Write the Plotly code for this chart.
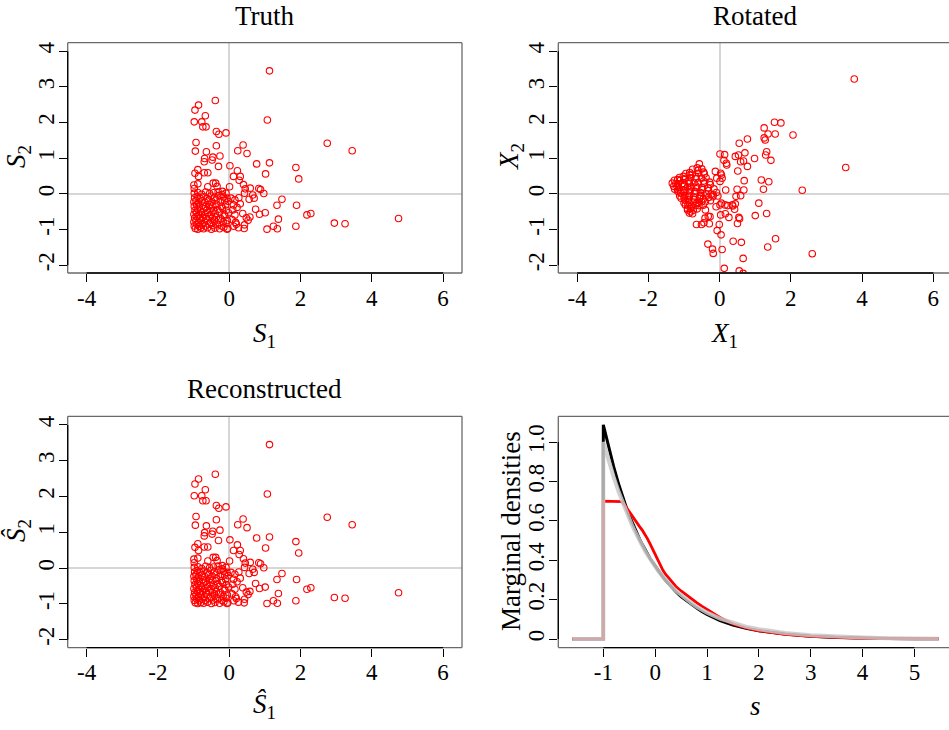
import plotly.graph_objects as go

# ---------------- data ----------------
# Truth sources (S1, S2): outlying points and the dense core near (-1,-1)..(0,0)
truth_outer = [
    (1.13, 3.45), (-0.39, 2.62), (-0.86, 2.49), (-0.96, 2.35), (-0.67, 2.19), (-0.98, 2.02),
    (-0.77, 2.02), (-0.74, 1.88), (-0.65, 1.88), (1.07, 2.07), (-0.36, 1.75), (-0.29, 1.67),
    (-0.09, 1.71), (2.75, 1.42), (3.45, 1.21), (-0.93, 1.44), (-0.95, 1.20), (-0.36, 1.35),
    (-0.64, 1.18), (0.39, 1.37), (0.24, 1.21), (0.50, 1.13), (-0.69, 0.99), (-0.46, 1.03),
    (-0.26, 1.06), (-0.48, 0.95), (-0.70, 0.90), (-0.30, 0.77), (0.02, 0.79), (0.77, 0.84),
    (1.13, 0.87), (1.87, 0.74), (1.95, 0.42), (-0.88, 0.68), (-0.96, 0.58), (-0.86, 0.49),
    (-0.70, 0.59), (-0.60, 0.59), (0.23, 0.65), (1.02, 0.56), (0.12, 0.49), (0.31, 0.49),
    (0.28, 0.38), (0.40, 0.26), (0.45, 0.14), (0.59, 0.16), (0.83, 0.15), (0.88, 0.12),
    (0.97, 0.01), (0.66, -0.03), (0.70, -0.12), (0.56, -0.15), (0.43, 0.02), (0.01, 0.20),
    (-0.19, 0.07), (-0.34, 0.21), (-0.45, 0.30), (-0.38, 0.30), (-0.60, 0.20), (-0.88, 0.28),
    (-0.99, 0.25), (-0.98, 0.15), (1.48, -0.15), (1.34, -0.32), (1.89, -0.32), (0.74, -0.43),
    (0.85, -0.57), (1.01, -0.53), (2.18, -0.59), (2.29, -0.55), (1.38, -0.71), (0.58, -0.65),
    (0.53, -0.74), (0.43, -0.87), (0.42, -0.97), (0.20, -0.85), (0.13, -0.91), (-0.06, -0.99),
    (1.06, -0.99), (1.24, -0.91), (1.35, -0.98), (1.87, -0.91), (2.95, -0.82), (3.25, -0.84),
    (4.75, -0.69), (0.16, -0.59), (0.27, -0.11), (0.31, -0.28), (0.38, -0.55), (0.48, -0.67),
    (0.12, -0.31), (0.16, -0.17), (0.10, -0.45), (0.22, -0.38), (0.08, -0.72), (0.05, -0.12),
    (0.18, -0.80), (0.26, -0.95),
]
truth_core = [
    (-0.95, -0.97), (-0.88, -0.99), (-0.80, -0.96), (-0.72, -0.98), (-0.61, -0.95), (-0.50, -0.99),
    (-0.40, -0.96), (-0.27, -0.98), (-0.15, -0.94), (-0.04, -0.97),
    (-0.98, -0.90), (-0.91, -0.86), (-0.84, -0.91), (-0.76, -0.87), (-0.67, -0.90), (-0.56, -0.85),
    (-0.45, -0.89), (-0.33, -0.86), (-0.21, -0.90), (-0.09, -0.84),
    (-0.99, -0.79), (-0.93, -0.76), (-0.86, -0.81), (-0.79, -0.75), (-0.70, -0.79), (-0.62, -0.74),
    (-0.52, -0.80), (-0.41, -0.77), (-0.30, -0.73), (-0.17, -0.79), (-0.05, -0.75),
    (-0.97, -0.68), (-0.90, -0.65), (-0.83, -0.70), (-0.74, -0.66), (-0.65, -0.69), (-0.57, -0.63),
    (-0.47, -0.68), (-0.36, -0.65), (-0.24, -0.69), (-0.12, -0.62),
    (-0.99, -0.57), (-0.92, -0.54), (-0.85, -0.59), (-0.78, -0.53), (-0.69, -0.57), (-0.60, -0.52),
    (-0.50, -0.58), (-0.39, -0.55), (-0.28, -0.51), (-0.14, -0.57), (-0.02, -0.53),
    (-0.96, -0.46), (-0.89, -0.43), (-0.81, -0.48), (-0.72, -0.42), (-0.63, -0.46), (-0.53, -0.41),
    (-0.43, -0.47), (-0.32, -0.44), (-0.19, -0.40), (-0.08, -0.46),
    (-0.98, -0.35), (-0.91, -0.31), (-0.84, -0.37), (-0.75, -0.32), (-0.66, -0.36), (-0.55, -0.30),
    (-0.46, -0.34), (-0.35, -0.29), (-0.22, -0.35), (-0.10, -0.31),
    (-0.99, -0.23), (-0.93, -0.19), (-0.86, -0.25), (-0.77, -0.20), (-0.68, -0.24), (-0.58, -0.18),
    (-0.48, -0.22), (-0.37, -0.17), (-0.25, -0.23), (-0.13, -0.19), (-0.03, -0.21),
    (-0.97, -0.11), (-0.90, -0.07), (-0.82, -0.12), (-0.71, -0.08), (-0.61, -0.13), (-0.51, -0.06),
    (-0.41, -0.10), (-0.29, -0.05), (-0.16, -0.09), (-0.06, -0.12),
    (-0.98, 0.02), (-0.88, 0.04), (-0.77, -0.01), (-0.66, 0.05), (-0.55, 0.01), (-0.44, 0.03),
    (-0.31, 0.06), (-0.20, -0.02), (-0.09, 0.02),
]

# Rotated (mixed) data (X1, X2)
rot_outer = [
    (3.78, 3.22), (3.54, 0.74), (2.32, 0.10), (2.60, -1.68), (1.54, 2.01), (1.72, 1.99),
    (1.25, 1.85), (2.06, 1.65), (1.56, 1.68), (1.36, 1.68), (1.25, 1.57), (1.28, 1.51),
    (0.78, 1.54), (0.55, 1.42), (0.71, 1.15), (1.32, 1.18), (1.29, 1.09), (1.44, 0.94),
    (0.98, 0.99), (0.44, 1.05), (0.53, 1.09), (0.01, 1.12), (0.14, 1.10), (0.12, 0.94),
    (0.20, 0.81), (0.59, 0.90), (0.67, 0.92), (0.78, 0.77), (0.51, 0.64), (0.69, 0.37),
    (1.17, 0.39), (1.38, 0.34), (1.23, 0.13), (0.68, 0.11), (0.49, 0.13), (0.17, 0.11),
    (0.59, -0.05), (0.46, -0.07), (1.10, -0.26), (0.44, -0.28), (0.23, -0.33), (0.37, -0.34),
    (0.01, -0.31), (0.42, -0.43), (0.03, -0.59), (0.16, -0.56), (0.26, -0.66), (0.54, -0.66),
    (0.56, -0.70), (1.00, -0.61), (1.32, -0.55), (0.50, -0.83), (-0.01, -0.86), (-0.07, -1.03),
    (0.04, -1.15), (0.38, -1.33), (0.61, -1.36), (1.57, -1.26), (1.35, -1.49), (-0.33, -1.41),
    (-0.20, -1.55), (-0.18, -1.67), (0.07, -1.56), (0.66, -1.81), (0.13, -2.09), (0.55, -2.16),
    (0.66, -2.23),
    (-0.90, -0.45), (-0.85, -0.54), (-0.76, -0.56), (-0.65, -0.86), (-0.51, -0.86), (-0.44, -0.81),
    (-0.29, -0.84), (-0.27, -0.64), (-0.40, -0.45), (-0.10, -0.36), (-0.60, -0.24), (-0.55, -0.07),
    (-0.18, -0.03), (0.15, -0.31), (-0.32, -0.63), (-0.41, -0.68), (0.05, -0.26), (0.36, -0.31),
    (0.05, 0.53), (0.07, 0.44), (0.01, 0.35), (-0.12, 0.63), (-0.08, 0.44), (0.03, 0.58),
    (0.19, 0.86),
]
rot_core = [
    (-1.33, 0.30), (-1.27, 0.38), (-1.18, 0.40), (-1.13, 0.46), (-1.02, 0.49), (-0.95, 0.57),
    (-0.84, 0.60), (-0.76, 0.69), (-0.63, 0.73), (-0.57, 0.84),
    (-1.29, 0.21), (-1.23, 0.29), (-1.17, 0.28), (-1.12, 0.37), (-1.01, 0.41), (-0.96, 0.43),
    (-0.83, 0.53), (-0.77, 0.55), (-0.61, 0.66), (-0.50, 0.70),
    (-1.26, 0.13), (-1.20, 0.21), (-1.15, 0.17), (-1.05, 0.29), (-0.99, 0.27), (-0.87, 0.36),
    (-0.81, 0.45), (-0.67, 0.48), (-0.59, 0.58), (-0.45, 0.61),
    (-1.18, 0.07), (-1.16, 0.11), (-1.06, 0.10), (-1.02, 0.20), (-0.90, 0.19), (-0.85, 0.30),
    (-0.72, 0.31), (-0.66, 0.43), (-0.51, 0.44), (-0.43, 0.56),
    (-1.12, -0.06), (-1.09, 0.02), (-1.00, 0.04), (-0.97, 0.09), (-0.85, 0.11), (-0.79, 0.19),
    (-0.66, 0.22), (-0.60, 0.31), (-0.45, 0.36), (-0.38, 0.45),
    (-1.08, -0.12), (-1.00, -0.11), (-0.98, -0.05), (-0.87, -0.04), (-0.83, 0.06), (-0.70, 0.07),
    (-0.64, 0.17), (-0.50, 0.18), (-0.43, 0.30), (-0.28, 0.33),
    (-1.00, -0.25), (-0.97, -0.18), (-0.88, -0.17), (-0.85, -0.09), (-0.73, -0.08), (-0.68, 0.01),
    (-0.54, 0.04), (-0.48, 0.12), (-0.33, 0.17), (-0.26, 0.26),
    (-0.96, -0.31), (-0.89, -0.31), (-0.86, -0.24), (-0.74, -0.23), (-0.71, -0.15), (-0.57, -0.12),
    (-0.52, -0.04), (-0.38, 0.00), (-0.31, 0.09), (-0.16, 0.14),
    (-0.90, -0.41), (-0.82, -0.41), (-0.79, -0.35), (-0.68, -0.33), (-0.64, -0.26), (-0.51, -0.22),
    (-0.46, -0.14), (-0.31, -0.10), (-0.24, -0.01), (-0.09, 0.04),
    (-0.81, -0.50), (-0.74, -0.46), (-0.63, -0.42), (-0.58, -0.33), (-0.46, -0.32), (-0.40, -0.22),
    (-0.26, -0.19), (-0.19, -0.08), (-0.05, -0.06),
]

# Reconstructed sources are (visually) identical to the truth
recon_outer = truth_outer
recon_core = truth_core

# Marginal densities (true = black, estimate = red, others = gray)
dens_s = [-1.6, -1.0, -1.0, -0.9, -0.8, -0.7, -0.65, -0.6, -0.55, -0.5, -0.45, -0.4, -0.35, -0.3,
          -0.25, -0.2, -0.15, -0.1, -0.05, 0.0, 0.05, 0.1, 0.15, 0.2, 0.3, 0.4, 0.5, 0.6, 0.7, 0.8,
          0.9, 1.0, 1.25, 1.5, 1.75, 2.0, 2.5, 3.0, 3.5, 4.0, 4.5, 5.0, 5.47]
dens_black = [0, 0, 1.088, 0.975, 0.875, 0.783, 0.74, 0.70, 0.663, 0.628, 0.596, 0.565, 0.536,
              0.507, 0.481, 0.456, 0.433, 0.41, 0.39, 0.37, 0.351, 0.333, 0.315, 0.298, 0.268,
              0.24, 0.215, 0.195, 0.175, 0.157, 0.14, 0.125, 0.094, 0.071, 0.054, 0.042, 0.025,
              0.014, 0.008, 0.0045, 0.0025, 0.0015, 0.001]
dens_gray = [0, 0, 1.0, 0.905, 0.822, 0.745, 0.71, 0.675, 0.642, 0.61, 0.58, 0.552, 0.524, 0.498,
             0.473, 0.45, 0.428, 0.406, 0.386, 0.367, 0.349, 0.332, 0.315, 0.30, 0.271, 0.245,
             0.222, 0.201, 0.182, 0.164, 0.148, 0.134, 0.104, 0.081, 0.063, 0.050, 0.031, 0.019,
             0.012, 0.0075, 0.0045, 0.003, 0.002]
dens_red = [0, 0, 0.70, 0.70, 0.70, 0.70, 0.698, 0.685, 0.665, 0.645, 0.626, 0.607, 0.589, 0.571,
            0.553, 0.533, 0.51, 0.484, 0.456, 0.427, 0.398, 0.372, 0.349, 0.329, 0.295, 0.267,
            0.244, 0.223, 0.203, 0.185, 0.167, 0.15, 0.11, 0.076, 0.056, 0.042, 0.024, 0.013,
            0.007, 0.004, 0.002, 0.001, 0.0005]

# ---------------- figure ----------------
W, H = 949, 730
FONT = "Liberation Serif, Times New Roman, serif"
TICK_SIZE = 23
TITLE_SIZE = 27


def px_x(p):
    return p / W


def px_y(p):
    return 1 - p / H


fig = go.Figure()


def add_scatter(pts_list, xa, ya):
    xs = [p[0] for pts in pts_list for p in pts]
    ys = [p[1] for pts in pts_list for p in pts]
    fig.add_trace(go.Scatter(
        x=xs, y=ys, mode="markers", xaxis=xa, yaxis=ya, showlegend=False,
        marker=dict(symbol="circle-open", size=6.5, color="#ff0000", line=dict(width=1.1, color="#ff0000")),
        hoverinfo="skip"))


add_scatter([truth_core, truth_outer], "x", "y")
add_scatter([rot_core, rot_outer], "x2", "y2")
add_scatter([recon_core, recon_outer], "x3", "y3")

fig.add_trace(go.Scatter(x=dens_s, y=dens_black, mode="lines", xaxis="x4", yaxis="y4",
                         line=dict(color="black", width=3), showlegend=False, hoverinfo="skip"))
fig.add_trace(go.Scatter(x=dens_s, y=dens_red, mode="lines", xaxis="x4", yaxis="y4",
                         line=dict(color="#ff0000", width=2.8), showlegend=False, hoverinfo="skip"))
fig.add_trace(go.Scatter(x=dens_s, y=dens_gray, mode="lines", xaxis="x4", yaxis="y4",
                         line=dict(color="rgba(200,200,200,0.85)", width=4), showlegend=False,
                         hoverinfo="skip"))

tickfont = dict(family=FONT, size=TICK_SIZE, color="black")

common_x = dict(ticks="outside", ticklen=8, tickwidth=1.2, tickcolor="black", showgrid=False,
                showline=False, tickfont=tickfont, fixedrange=True, ticklabelstandoff=-4)
common_y = dict(ticks="outside", ticklen=8, tickwidth=1.2, tickcolor="black", showgrid=False,
                showline=False, tickfont=tickfont, tickangle=-90, fixedrange=True,
                ticklabelstandoff=-4)

sc_xt = [-4, -2, 0, 2, 4, 6]
sc_xl = ["-4", "-2", "0", "2", "4", "6"]
sc_yt = [-2, -1, 0, 1, 2, 3, 4]
sc_yl = ["-2", "-1", "0", "1", "2", "3", "4"]
zl = dict(zeroline=True, zerolinecolor="#d6d6d6", zerolinewidth=1.6)

left_dom = [px_x(67.7), px_x(462)]
right_dom = [px_x(558.3), 1.0]
top_dom = [px_y(273), px_y(42.7)]
bot_dom = [px_y(647.6), px_y(416.3)]

fig.update_layout(
    width=W, height=H, autosize=False,
    margin=dict(l=0, r=0, t=0, b=0),
    paper_bgcolor="white", plot_bgcolor="white",
    xaxis=dict(domain=left_dom, range=[-4.53, 6.53], tickvals=sc_xt, ticktext=sc_xl, anchor="y", **zl, **common_x),
    yaxis=dict(domain=top_dom, range=[-2.22, 4.24], tickvals=sc_yt, ticktext=sc_yl, anchor="x", **zl, **common_y),
    xaxis2=dict(domain=right_dom, range=[-4.53, 6.44], tickvals=sc_xt, ticktext=sc_xl, anchor="y2", **zl, **common_x),
    yaxis2=dict(domain=top_dom, range=[-2.22, 4.24], tickvals=sc_yt, ticktext=sc_yl, anchor="x2", **zl, **common_y),
    xaxis3=dict(domain=left_dom, range=[-4.53, 6.53], tickvals=sc_xt, ticktext=sc_xl, anchor="y3", **zl, **common_x),
    yaxis3=dict(domain=bot_dom, range=[-2.22, 4.24], tickvals=sc_yt, ticktext=sc_yl, anchor="x3", **zl, **common_y),
    xaxis4=dict(domain=right_dom, range=[-1.868, 5.667], tickvals=[-1, 0, 1, 2, 3, 4, 5],
                ticktext=["-1", "0", "1", "2", "3", "4", "5"], anchor="y4", zeroline=False, **common_x),
    yaxis4=dict(domain=bot_dom, range=[-0.0435, 1.131], tickvals=[0, 0.2, 0.4, 0.6, 0.8, 1.0],
                ticktext=["0", "0.2", "0.4", "0.6", "0.8", "1.0"], anchor="x4", zeroline=False, **common_y),
)

# Box (gray) and axis lines (black) in R style
shapes = []
BOX = dict(color="#6a6a6a", width=1.3)
AX = dict(color="black", width=1.3)


def box(xa, ya, right=True):
    xd, yd = f"{xa} domain", f"{ya} domain"
    shapes.append(dict(type="line", xref=xd, yref=yd, x0=0, x1=1, y0=1, y1=1, line=BOX))
    shapes.append(dict(type="line", xref=xd, yref=yd, x0=0, x1=1, y0=0, y1=0, line=BOX))
    shapes.append(dict(type="line", xref=xd, yref=yd, x0=0, x1=0, y0=0, y1=1, line=BOX))
    if right:
        shapes.append(dict(type="line", xref=xd, yref=yd, x0=1, x1=1, y0=0, y1=1, line=BOX))


def axis_lines(xa, ya, xlo, xhi, ylo, yhi):
    shapes.append(dict(type="line", xref=xa, yref=f"{ya} domain", x0=xlo, x1=xhi, y0=0, y1=0, line=AX))
    shapes.append(dict(type="line", xref=f"{xa} domain", yref=ya, x0=0, x1=0, y0=ylo, y1=yhi, line=AX))


box("x", "y")
axis_lines("x", "y", -4, 6, -2, 4)
box("x2", "y2", right=False)
axis_lines("x2", "y2", -4, 6, -2, 4)
box("x3", "y3")
axis_lines("x3", "y3", -4, 6, -2, 4)
box("x4", "y4", right=False)
axis_lines("x4", "y4", -1, 5, 0, 1)
fig.update_layout(shapes=shapes)

# Titles and axis labels
tf = dict(family=FONT, size=TITLE_SIZE, color="black")
ann = []


def label(text, x, y, angle=0):
    ann.append(dict(text=text, x=px_x(x), y=px_y(y), xref="paper", yref="paper", showarrow=False,
                    xanchor="center", yanchor="middle", textangle=angle, font=tf))


label("Truth", 264.5, 16)
label("Rotated", 755, 16)
label("Reconstructed", 264.5, 389)
label("<i>S</i><sub>1</sub>", 264, 335)
label("<i>X</i><sub>1</sub>", 724, 335)
label("<i>Ŝ</i><sub>1</sub>", 264, 706)
label("<i>s</i>", 755, 706)
label("<i>S</i><sub>2</sub>", 18, 157, -90)
label("<i>X</i><sub>2</sub>", 511, 157, -90)
label("<i>Ŝ</i><sub>2</sub>", 18, 531, -90)
label("Marginal densities", 511, 531, -90)
fig.update_layout(annotations=ann)

# remove the default 8px page margin so the figure sits at the window origin
fig.write_html("out.html", config={"displayModeBar": False},
               post_script="document.body.style.margin='0px';")
